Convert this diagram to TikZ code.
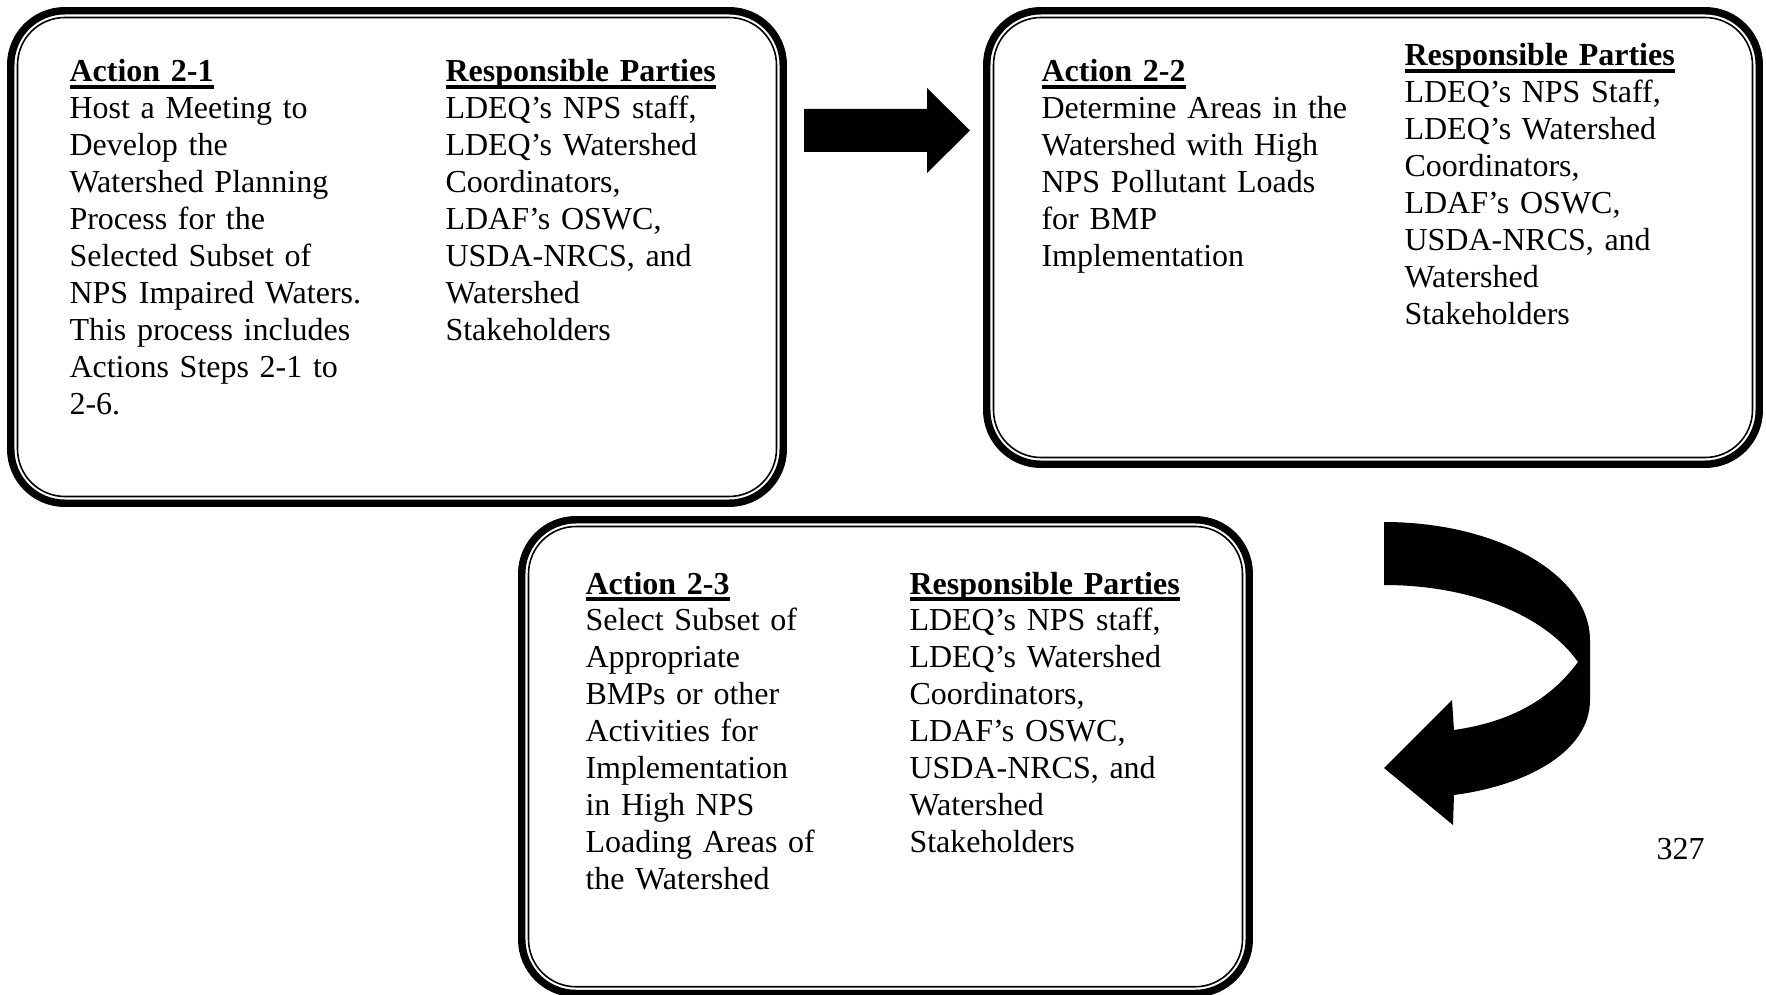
\documentclass[tikz,border=0pt]{standalone}
\usepackage{fontspec}
\setmainfont{Liberation Serif}
\newcommand\ulhead[1]{\setbox0\hbox{\bfseries #1}\rlap{\rule[-2.6pt]{\wd0}{1.4pt}}\box0}
\tikzset{
  outerrim/.style={line width=2.8pt,rounded corners=20.3pt},
  innerrim/.style={line width=0.6pt,rounded corners=17.8pt},
  col/.style={anchor=base west,inner sep=0pt,align=left,text width=150pt,
    font=\fontsize{12}{13.84}\selectfont},
}
\begin{document}
\begin{tikzpicture}[x=0.375pt,y=-0.375pt]
\useasboundingbox (0,0) rectangle (1766,995);
\draw[outerrim] (10.75,10.75) rectangle (783.25,503.25);
\draw[innerrim] (17.5,17.5) rectangle (776.5,496.5);
\draw[outerrim] (986.75,10.75) rectangle (1759.25,464.25);
\draw[innerrim] (993.5,17.5) rectangle (1752.5,457.5);
\draw[outerrim] (521.75,519.75) rectangle (1249.25,993.5);
\draw[innerrim] (528.5,526.5) rectangle (1242.5,986.75);
\node[col] (act1) at (69,82) {\ulhead{Action 2-1}\\Host a Meeting to\\Develop the\\Watershed Planning\\Process for the\\Selected Subset of\\NPS Impaired Waters.\\This process includes\\Actions Steps 2-1 to\\2-6.};
\node[col] (resp1) at (445,82) {\ulhead{Responsible Parties}\\LDEQ’s NPS staff,\\LDEQ’s Watershed\\Coordinators,\\LDAF’s OSWC,\\USDA-NRCS, and\\Watershed\\Stakeholders};
\node[col] (act2) at (1041,82) {\ulhead{Action 2-2}\\Determine Areas in the\\Watershed with High\\NPS Pollutant Loads\\for BMP\\Implementation};
\node[col] (resp2) at (1404,66) {\ulhead{Responsible Parties}\\LDEQ’s NPS Staff,\\LDEQ’s Watershed\\Coordinators,\\LDAF’s OSWC,\\USDA-NRCS, and\\Watershed\\Stakeholders};
\node[col] (act3) at (585,594) {\ulhead{Action 2-3}\\Select Subset of\\Appropriate\\BMPs or other\\Activities for\\Implementation\\in High NPS\\Loading Areas of\\the Watershed};
\node[col] (resp3) at (909,594) {\ulhead{Responsible Parties}\\LDEQ’s NPS staff,\\LDEQ’s Watershed\\Coordinators,\\LDAF’s OSWC,\\USDA-NRCS, and\\Watershed\\Stakeholders};
\node[col] (page) at (1656,859) {327};
\fill (804,109) -- (927,109) -- (927,88) -- (970,130.5) -- (927,173) -- (927,152) -- (804,152) -- cycle;
\fill (1384,522) .. controls (1498,522) and (1590,575) .. (1590,640) -- (1590,700) .. controls (1590,750) and (1530,785) .. (1454,795) -- (1453,825) -- (1384,768) -- (1452,700) -- (1454,730) .. controls (1510,722) and (1550,700) .. (1578,662) .. controls (1545,615) and (1470,585) .. (1384,585) -- cycle;
\end{tikzpicture}
\end{document}
